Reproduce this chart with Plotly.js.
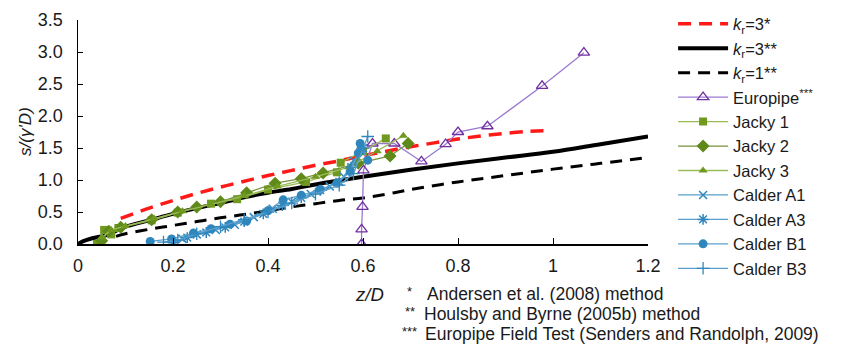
<!DOCTYPE html>
<html><head><meta charset="utf-8">
<script src="https://cdn.plot.ly/plotly-3.0.1.min.js"></script>
<style>body{margin:0;background:#fff}#c{width:846px;height:349px}</style>
</head><body><div id="c"></div>
<script>
// Reference curves
const kr3A_x = [0.09,0.15,0.2,0.25,0.3,0.35,0.4,0.45,0.5,0.55,0.6,0.65,0.7,0.75,0.8,0.85,0.9,0.95,0.98];
const kr3A_y = [0.40,0.56,0.68,0.79,0.89,0.98,1.07,1.15,1.23,1.30,1.38,1.45,1.52,1.58,1.64,1.69,1.73,1.76,1.77];
const kr3H_x = [0,0.01,0.03,0.06,0.1,0.15,0.2,0.25,0.3,0.35,0.4,0.45,0.5,0.6,0.7,0.8,0.9,1.0,1.1,1.2];
const kr3H_y = [0,0.04,0.09,0.14,0.27,0.37,0.47,0.56,0.64,0.73,0.80,0.86,0.93,1.05,1.16,1.26,1.35,1.44,1.56,1.68];
const kr1H_x = [0.08,0.1,0.15,0.2,0.25,0.3,0.35,0.4,0.45,0.5,0.55,0.6,0.65,0.7,0.8,0.9,1.0,1.1,1.2];
const kr1H_y = [0.12,0.16,0.23,0.29,0.35,0.41,0.46,0.52,0.58,0.63,0.68,0.72,0.78,0.85,0.97,1.07,1.17,1.26,1.35];
// Test data
const euro_x = [0.597,0.597,0.599,0.601,0.62,0.666,0.723,0.774,0.80,0.862,0.977,1.065];
const euro_y = [0.0,0.23,0.58,1.15,1.57,1.57,1.29,1.56,1.75,1.84,2.47,2.99];
const jacky1_x = [0.04,0.055,0.07,0.085,0.155,0.21,0.28,0.335,0.40,0.48,0.545,0.553,0.60,0.648];
const jacky1_y = [0.0,0.22,0.15,0.25,0.37,0.49,0.63,0.70,0.85,0.97,1.12,1.27,1.45,1.65];
const jacky2_x = [0.05,0.065,0.09,0.155,0.21,0.25,0.30,0.355,0.415,0.47,0.516,0.59,0.657,0.695];
const jacky2_y = [0.05,0.2,0.26,0.38,0.50,0.58,0.66,0.80,0.95,1.02,1.11,1.26,1.375,1.57];
const jacky3_x = [0.05,0.07,0.1,0.16,0.22,0.28,0.35,0.42,0.5,0.57,0.63,0.685];
const jacky3_y = [0.1,0.22,0.28,0.40,0.51,0.62,0.75,0.90,1.05,1.2,1.45,1.69];
const calA1_x = [0.2,0.22,0.25,0.29,0.33,0.37,0.41,0.45,0.49,0.53,0.56,0.58,0.6];
const calA1_y = [0.0,0.08,0.15,0.22,0.30,0.42,0.55,0.66,0.78,0.90,1.05,1.3,1.5];
const calA3_x = [0.2,0.23,0.27,0.31,0.35,0.39,0.43,0.47,0.51,0.55,0.575,0.595];
const calA3_y = [0.02,0.1,0.18,0.26,0.35,0.47,0.60,0.72,0.84,0.97,1.2,1.45];
const calB1_x = [0.152,0.197,0.243,0.28,0.32,0.355,0.40,0.432,0.47,0.51,0.545,0.573,0.59,0.594,0.61];
const calB1_y = [0.04,0.08,0.17,0.24,0.31,0.36,0.52,0.69,0.76,0.85,0.95,1.13,1.42,1.57,1.31];
const calB3_x = [0.18,0.21,0.25,0.3,0.35,0.4,0.45,0.5,0.55,0.58,0.6,0.61];
const calB3_y = [0.03,0.06,0.16,0.27,0.38,0.5,0.64,0.78,0.92,1.1,1.5,1.68];
const xTicks = [0,0.2,0.4,0.6,0.8,1,1.2];
const yTicks = [0,0.5,1,1.5,2,2.5,3,3.5];

const FONT = 'Liberation Sans, Arial, sans-serif';
const TXT = '#1a1a1a';
const blueLine = '#5aa0cc', blueMk = '#2f86bd';
let g = 0;
function tr(name, x, y, line, marker) {
  g++;
  const t = {type:'scatter', mode: marker ? 'lines+markers' : 'lines', name, x, y, line,
          legendgroup:'g'+g, showlegend:true, hoverinfo:'skip'};
  if (marker) t.marker = marker;
  return t;
}
const traces = [
  tr('<i>k</i><sub>r</sub>=3*', kr3A_x, kr3A_y, {color:'#ff1a1a', width:3.5, dash:'13px,8px', shape:'spline'}),
  tr('<i>k</i><sub>r</sub>=3**', kr3H_x, kr3H_y, {color:'#000', width:4, shape:'spline'}),
  tr('<i>k</i><sub>r</sub>=1**', kr1H_x, kr1H_y, {color:'#000', width:3, dash:'12px,8px', shape:'spline'}),
  tr('Europipe<sup>***</sup>', euro_x, euro_y, {color:'#9a7ad0', width:1.3},
     {symbol:'triangle-up-open', size:10, color:'#7030a0', line:{width:1.3, color:'#7030a0'}}),
  tr('Jacky 1', jacky1_x, jacky1_y, {color:'#9bbb59', width:1.3},
     {symbol:'square', size:8, color:'#6f9a1f'}),
  tr('Jacky 2', jacky2_x, jacky2_y, {color:'#77933c', width:1.3},
     {symbol:'diamond', size:10, color:'#5f8a1a'}),
  tr('Jacky 3', jacky3_x, jacky3_y, {color:'#9bbb59', width:1.3},
     {symbol:'triangle-up', size:8, color:'#6f9a1f'}),
  tr('Calder A1', calA1_x, calA1_y, {color:blueLine, width:1.3},
     {symbol:'x-thin-open', size:8, color:blueMk, line:{width:1.5, color:blueMk}}),
  tr('Calder A3', calA3_x, calA3_y, {color:blueLine, width:1.3},
     {symbol:'asterisk-open', size:9, color:blueMk, line:{width:1.5, color:blueMk}}),
  tr('Calder B1', calB1_x, calB1_y, {color:blueLine, width:1.3},
     {symbol:'circle', size:9, color:blueMk}),
  tr('Calder B3', calB3_x, calB3_y, {color:blueLine, width:1.3},
     {symbol:'cross-thin-open', size:9, color:blueMk, line:{width:1.3, color:blueMk}})
];

const ann = (text, xpx, ypx, extra) => Object.assign({
  text, xref:'paper', yref:'paper', x:(xpx-78)/570, y:(244-ypx)/224,
  showarrow:false, xanchor:'left', yanchor:'middle', font:{family:FONT, size:17.5, color:TXT}
}, extra||{});

const layout = {
  width:846, height:349,
  margin:{l:78, r:198, t:20, b:105, autoexpand:false},
  paper_bgcolor:'#fff', plot_bgcolor:'#fff',
  font:{family:FONT, size:18, color:TXT},
  showlegend:true,
  legend:{x:1.044, xanchor:'left', y:1.06, yanchor:'top', tracegroupgap:0, maxheight:349,
          font:{family:FONT, size:16.5, color:TXT}, bgcolor:'rgba(0,0,0,0)', itemwidth:50},
  xaxis:{range:[0,1.2], tickvals:xTicks, ticktext:xTicks.map(String), ticklabelstandoff:5,
         showline:true, linecolor:'#000', linewidth:1.5, ticks:'inside', ticklen:6, tickcolor:'#000',
         showgrid:false, zeroline:false, mirror:false, fixedrange:true,
         tickfont:{family:FONT, size:18, color:TXT}},
  yaxis:{range:[0,3.5], tickvals:yTicks, ticktext:yTicks.map(v=>v.toFixed(1)), ticklabelstandoff:10,
         showline:true, linecolor:'#000', linewidth:1.5, ticks:'inside', ticklen:5, tickcolor:'#000',
         showgrid:false, zeroline:false, fixedrange:true,
         tickfont:{family:FONT, size:18, color:TXT}},
  annotations:[
    ann('<i>s/(γ\'D)</i>', 25, 132, {xanchor:'center', textangle:-90, font:{family:FONT, size:17, color:TXT}}),
    ann('<i>z/D</i>', 369, 294, {xanchor:'center', font:{family:FONT, size:18.5, color:TXT}}),
    ann('*', 405, 291, {font:{family:FONT, size:13, color:TXT}}),
    ann('Andersen et al. (2008) method', 425, 294),
    ann('**', 403, 311, {font:{family:FONT, size:13, color:TXT}}),
    ann('Houlsby and Byrne (2005b) method', 422, 314),
    ann('***', 400, 331, {font:{family:FONT, size:13, color:TXT}}),
    ann('Europipe Field Test (Senders and Randolph, 2009)', 423, 334)
  ]
};
Plotly.newPlot('c', traces, layout, {displayModeBar:false, staticPlot:true});
</script></body></html>
